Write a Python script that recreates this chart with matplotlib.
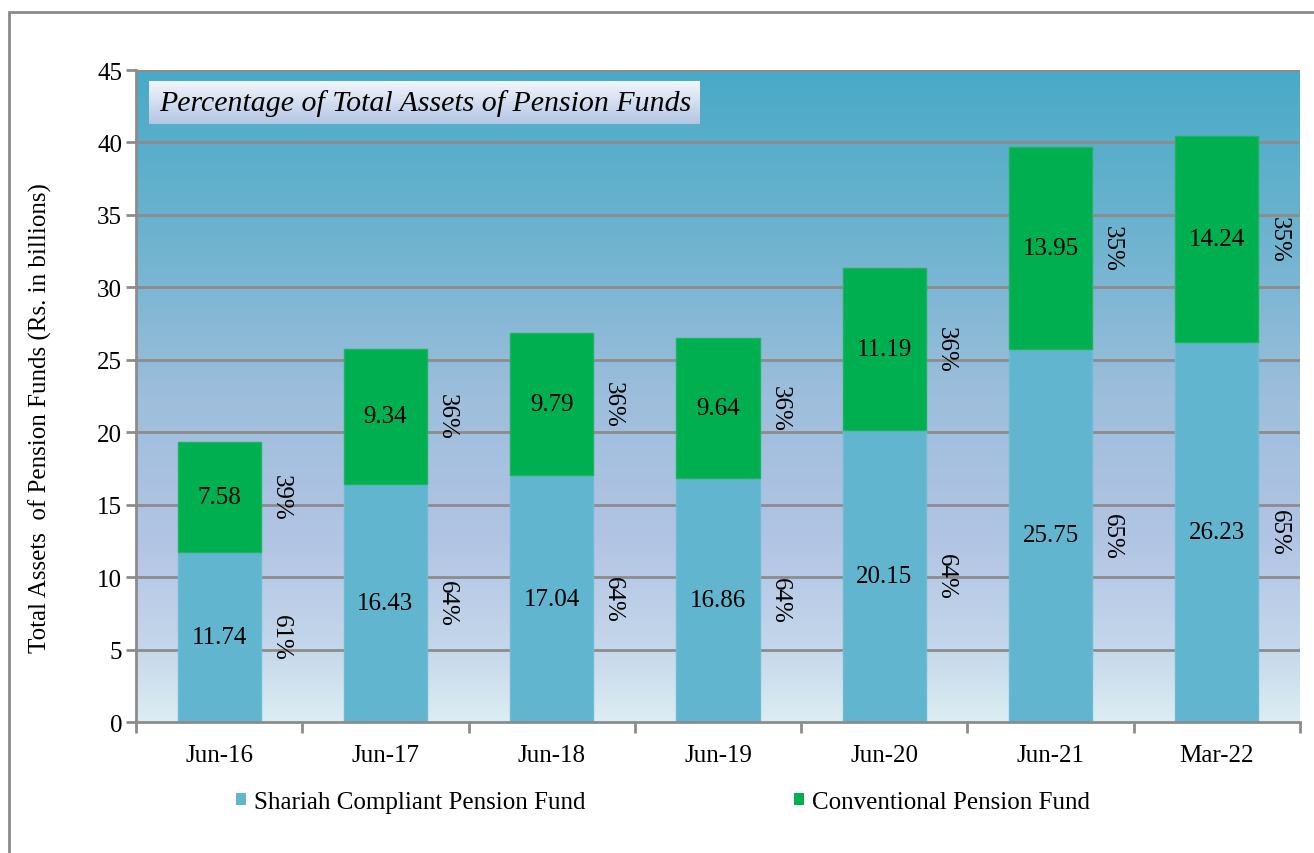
import matplotlib
matplotlib.use("Agg")
import matplotlib.pyplot as plt
import numpy as np
from matplotlib.colors import LinearSegmentedColormap
from matplotlib.patches import Rectangle, Patch

plt.rcParams['font.family'] = ['Liberation Serif', 'DejaVu Serif']

categories = ["Jun-16", "Jun-17", "Jun-18", "Jun-19", "Jun-20", "Jun-21", "Mar-22"]
shariah = [11.74, 16.43, 17.04, 16.86, 20.15, 25.75, 26.23]
conventional = [7.58, 9.34, 9.79, 9.64, 11.19, 13.95, 14.24]
shariah_pct = ["61%", "64%", "64%", "64%", "64%", "65%", "65%"]
conv_pct = ["39%", "36%", "36%", "36%", "36%", "35%", "35%"]
yticks = [0, 5, 10, 15, 20, 25, 30, 35, 40, 45]

W, H = 1314, 854
fig = plt.figure(figsize=(W / 100, H / 100), dpi=100)
fig.patch.set_facecolor("white")

# outer frame
fig.patches.append(Rectangle((9 / W, -0.1), 1.2, 1 - 13 / H + 0.1, transform=fig.transFigure,
                             fill=False, edgecolor="#8a8a8a", linewidth=2, zorder=0))

left, right, top, bottom = 136, 1300, 71, 723
ax = fig.add_axes([left / W, 1 - bottom / H, (right - left) / W, (bottom - top) / H])

# gradient background
stops = [(0.0, "#dcedf3"), (0.12, "#c3d6ea"), (0.28, "#b2c4e4"), (0.5, "#9dbedc"),
         (0.75, "#6db3cf"), (1.0, "#48aac7")]
cmap = LinearSegmentedColormap.from_list("bg", stops)
grad = np.linspace(0, 1, 256).reshape(-1, 1)
ax.imshow(grad, aspect="auto", cmap=cmap, origin="lower", extent=[0, 1, 0, 1],
          transform=ax.transAxes, zorder=0)

x = np.arange(len(categories))
ax.set_xlim(-0.5, len(categories) - 0.5)
ax.set_ylim(0, 45)

for yv in yticks[1:]:
    ax.axhline(yv, color="#8c8c8c", linewidth=2, zorder=1)

c1, c2 = "#62b5ce", "#00af4f"
ax.bar(x, shariah, width=0.5, color=c1, edgecolor="#6cbcd3", linewidth=1, zorder=2)
ax.bar(x, conventional, width=0.5, bottom=shariah, color=c2, edgecolor="#1db45f", linewidth=1, zorder=2)

fs = 18
for i in range(len(categories)):
    ax.text(x[i], shariah[i] / 2, f"{shariah[i]:.2f}", ha="center", va="center", fontsize=fs, zorder=3)
    ax.text(x[i], shariah[i] + conventional[i] / 2, f"{conventional[i]:.2f}", ha="center", va="center",
            fontsize=fs, zorder=3)
    ax.text(x[i] + 0.37, shariah[i] / 2, shariah_pct[i], ha="center", va="center", rotation=-90,
            fontsize=fs, zorder=3)
    ax.text(x[i] + 0.37, shariah[i] + conventional[i] / 2, conv_pct[i], ha="center", va="center",
            rotation=-90, fontsize=fs, zorder=3)

# title box with gradient
tx0, tx1 = (149 - left) / (right - left), (700 - left) / (right - left)
ty0, ty1 = (bottom - 125) / (bottom - top), (bottom - 82) / (bottom - top)
tcmap = LinearSegmentedColormap.from_list("tb", [(0, "#b3c6e4"), (1, "#f2f6fb")])
ax.imshow(grad, aspect="auto", cmap=tcmap, origin="lower", extent=[tx0, tx1, ty0, ty1],
          transform=ax.transAxes, zorder=4)
ax.text((159 - left) / (right - left), (ty0 + ty1) / 2, "Percentage of Total Assets of Pension Funds",
        transform=ax.transAxes, ha="left", va="center", fontsize=21.5, style="italic", zorder=5)

# axes styling
for s in ["top", "right"]:
    ax.spines[s].set_visible(False)
for s in ["left", "bottom"]:
    ax.spines[s].set_color("#8c8c8c")
    ax.spines[s].set_linewidth(2)
    ax.spines[s].set_zorder(6)

ax.set_yticks(yticks)
ax.set_yticklabels([str(v) for v in yticks], fontsize=fs)
ax.tick_params(axis="y", length=7, width=2, color="#8c8c8c", pad=3)
ax.set_xticks(x)
ax.set_xticklabels(categories, fontsize=fs)
ax.tick_params(axis="x", which="major", length=0, pad=16)
ax.set_xticks(np.arange(-0.5, len(categories), 1.0), minor=True)
ax.tick_params(axis="x", which="minor", length=8, width=2, color="#8c8c8c")

fig.text(40 / W, 1 - 418 / H, "Total Assets  of Pension Funds (Rs. in billions)", rotation=90,
         ha="center", va="center", fontsize=fs)

handles = [Patch(facecolor=c1, edgecolor="none"), Patch(facecolor=c2, edgecolor="none")]
fig.legend(handles, ["Shariah Compliant Pension Fund", "Conventional Pension Fund"],
           loc="center", bbox_to_anchor=(663 / W, 1 - 803 / H), ncol=2, frameon=False,
           fontsize=fs, handlelength=0.4, handleheight=0.4, handletextpad=0.3, columnspacing=8.35)

fig.savefig("out.png", dpi=100)
